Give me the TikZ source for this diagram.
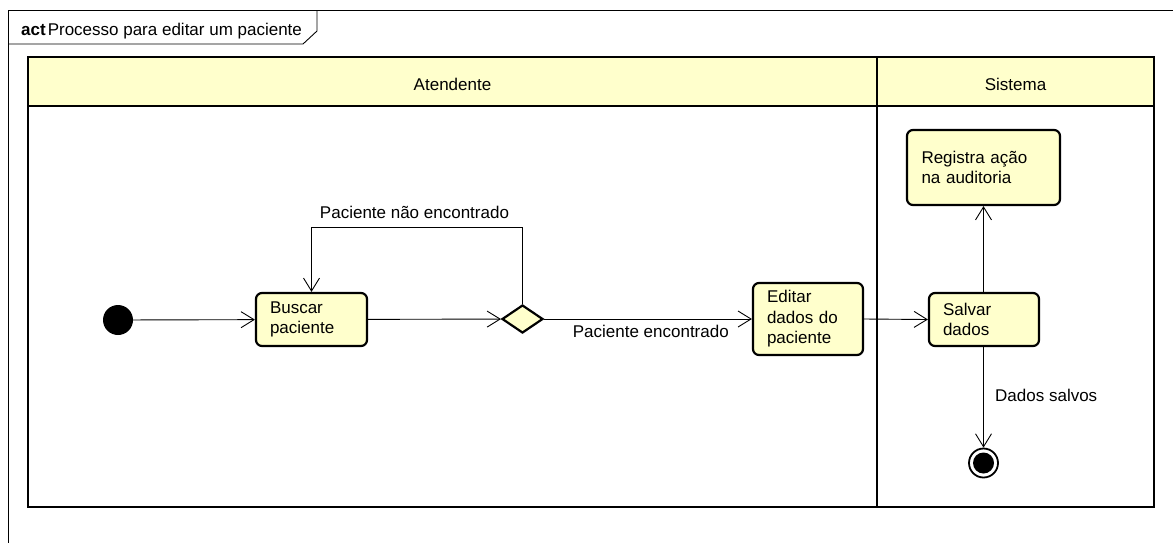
\documentclass[tikz,border=0pt]{standalone}
\usepackage{fontspec}
\setmainfont{Liberation Sans}
\usetikzlibrary{arrows.meta,shapes.geometric}
\definecolor{umlfill}{HTML}{FFFFCC}
\begin{document}
\begin{tikzpicture}[x=1pt,y=-1pt,
  font=\fontsize{17}{20.5}\selectfont,
  action/.style={draw, line width=2.2pt, rounded corners=6pt, fill=umlfill,
    align=left, inner sep=0pt},
  decision/.style={diamond, draw, line width=2.2pt, fill=umlfill,
    minimum width=41pt, minimum height=28pt, inner sep=0pt},
  startnode/.style={circle, fill=black, minimum size=30pt, inner sep=0pt},
  endnode/.style={circle, draw, line width=1.8pt, fill=white, minimum size=29pt,
    inner sep=0pt, path picture={\fill[black] (path picture bounding box.center) circle (10.5pt);}},
  flow/.style={line width=0.9pt, -{Straight Barb[length=13pt,width=16pt,line width=0.9pt]}},
  lbl/.style={inner sep=0pt}
]
\useasboundingbox (0,0) rectangle (1173,542);

% diagram frame and its title tab
\draw[line width=0.9pt] (8,560) -- (8,10) -- (1190,10);
\draw[line width=0.9pt] (8,44) -- (303,44) -- (317,31) -- (317,10);
\node[anchor=base west, inner sep=0pt] (title) at (21,35)
  {\textbf{act}\hspace{2pt}Processo para editar um paciente};

% swimlanes
\fill[umlfill] (28,57) rectangle (1154,106);
\draw[line width=2pt] (28,106) -- (1154,106);
\draw[line width=2.5pt] (28,57) rectangle (1154,507);
\draw[line width=2.5pt] (877,57) -- (877,507);
\node (laneA) at (452.5,84) {Atendente};
\node (laneB) at (1015.5,84) {Sistema};

% activity nodes
\node[startnode] (start) at (118,320) {};
\node[action, minimum width=111pt, minimum height=53pt, text width=83pt]
  (buscar) at (311.5,319.5) {Buscar\\paciente};
\node[decision] (dec) at (522.5,319) {};
\node[action, minimum width=110pt, minimum height=72pt, text width=82pt]
  (editar) at (808,319) {Editar\\dados do\\paciente};
\node[action, minimum width=110pt, minimum height=53pt, text width=82pt]
  (salvar) at (984,319.5) {Salvar\\dados};
\node[action, minimum width=153pt, minimum height=75pt, text width=124pt]
  (registra) at (983.5,167.5) {Registra ação\\na auditoria};
\node[endnode] (fim) at (983.5,463) {};

% control flows
\draw[flow] (start) -- (buscar);
\draw[flow] (buscar) -- (dec);
\draw[flow] (dec.north) -- (522.5,227) -- (buscar.north |- 0,227) -- (buscar.north);
\draw[flow] (dec.east) -- (editar.west |- dec.east);
\draw[flow] (editar.east) -- (salvar.west);
\draw[flow] (salvar.north -| registra.south) -- (registra.south);
\draw[flow] (salvar.south -| fim.north) -- (fim.north);

% guard labels
\node[lbl] (gNo) at (414.5,212) {Paciente não encontrado};
\node[lbl, anchor=east] (gYes) at (729,331) {Paciente encontrado};
\node[lbl, anchor=west] (gSaved) at (995,395) {Dados salvos};
\end{tikzpicture}
\end{document}
